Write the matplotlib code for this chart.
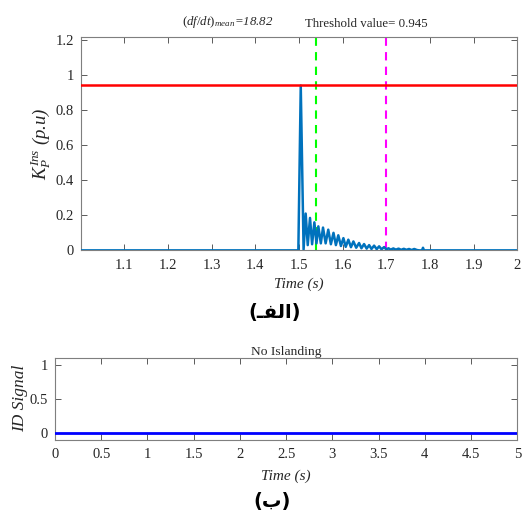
import matplotlib
matplotlib.use("Agg")
import matplotlib.pyplot as plt

plt.rcParams["font.family"] = ["Liberation Serif", "DejaVu Sans"]
plt.rcParams["mathtext.fontset"] = "custom"
plt.rcParams["mathtext.rm"] = "Liberation Serif"
plt.rcParams["mathtext.it"] = "Liberation Serif:italic"

# (a) instantaneous K_P vs time
t_top = [1.0, 1.4985, 1.504, 1.5105,
         1.5153, 1.520, 1.5252, 1.530, 1.5352, 1.540, 1.5443, 1.550,
         1.555, 1.561, 1.567, 1.573, 1.579, 1.5845, 1.590, 1.596,
         1.6017, 1.607, 1.613, 1.619, 1.6246, 1.631, 1.6376, 1.643,
         1.649, 1.655, 1.6606, 1.666, 1.672, 1.678, 1.6835, 1.689,
         1.695, 1.700, 1.705, 1.710, 1.716, 1.722, 1.728, 1.734,
         1.740, 1.746, 1.752, 1.758, 1.764, 1.770, 1.775, 1.782,
         1.784, 1.786, 2.0]
k_top = [0.0, 0.0, 0.94, 0.005,
         0.21, 0.03, 0.185, 0.035, 0.16, 0.04, 0.137, 0.04,
         0.13, 0.04, 0.118, 0.035, 0.10, 0.03, 0.086, 0.025,
         0.07, 0.02, 0.061, 0.018, 0.051, 0.015, 0.042, 0.012,
         0.036, 0.01, 0.030, 0.008, 0.027, 0.007, 0.023, 0.006,
         0.019, 0.005, 0.012, 0.004, 0.011, 0.004, 0.010, 0.003,
         0.009, 0.003, 0.008, 0.002, 0.008, 0.002, 0.0, 0.0,
         0.015, 0.0, 0.0]
threshold = 0.945
t_green = 1.54
t_magenta = 1.70
dfdt_mean = 18.82

top_xticks = [1.1, 1.2, 1.3, 1.4, 1.5, 1.6, 1.7, 1.8, 1.9, 2.0]
top_xlabels = ["1.1", "1.2", "1.3", "1.4", "1.5", "1.6", "1.7", "1.8", "1.9", "2"]
top_yticks = [0, 0.2, 0.4, 0.6, 0.8, 1.0, 1.2]
top_ylabels = ["0", "0.2", "0.4", "0.6", "0.8", "1", "1.2"]

# (b) islanding detection signal
t_bot = [0.0, 5.0]
id_bot = [0.0, 0.0]
bot_xticks = [0, 0.5, 1, 1.5, 2, 2.5, 3, 3.5, 4, 4.5, 5]
bot_xlabels = ["0", "0.5", "1", "1.5", "2", "2.5", "3", "3.5", "4", "4.5", "5"]
bot_yticks = [0, 0.5, 1]
bot_ylabels = ["0", "0.5", "1"]

spine_col = "#7f7f7f"
text_col = "#262626"


def matlab_box(ax):
    for s in ax.spines.values():
        s.set_color(spine_col)
        s.set_linewidth(0.8)
    ax.tick_params(direction="in", top=True, right=True, length=4,
                   width=0.6, color="#404040", labelsize=10.5,
                   labelcolor=text_col)
    ax.tick_params(axis="x", pad=6)
    ax.tick_params(axis="y", pad=5)


fig = plt.figure(figsize=(5.22, 5.12), dpi=100)

ax1 = fig.add_axes([0.1546, 0.511, 0.8364, 0.416])
ax1.plot(t_top, k_top, color="#0072BD", lw=1.8, zorder=3)
ax1.axhline(threshold, color="#FF0000", lw=1.8, zorder=4)
ax1.axvline(t_green, color="#00FF00", lw=1.5, ls=(0, (4, 3)), zorder=2)
ax1.axvline(t_magenta, color="#FF00FF", lw=1.5, ls=(0, (4, 3)), zorder=2)
ax1.set_xlim(1.0, 2.0)
ax1.set_ylim(0, 1.215)
ax1.set_xticks(top_xticks, top_xlabels)
ax1.set_yticks(top_yticks, top_ylabels)
matlab_box(ax1)
ax1.set_xlabel("Time (s)", fontstyle="italic", fontsize=11, color=text_col, labelpad=4)
ax1.set_ylabel(r"$K_P^{Ins}$ (p.u)", fontstyle="italic", fontsize=13.5,
               color=text_col, labelpad=2)
ax1.text(0.337, 1.035, r"$(df/dt)_{mean}$=%.2f" % dfdt_mean, fontstyle="italic",
         transform=ax1.transAxes, ha="center", va="bottom", fontsize=9.3, color=text_col)
ax1.text(0.654, 1.035, "Threshold value= %.3f" % threshold,
         transform=ax1.transAxes, ha="center", va="bottom", fontsize=9.3, color=text_col)
fig.text(0.527, 0.39, "(\u0640\uFED4\uFEDF\u0627)", ha="center", va="center",
         fontsize=14, fontweight="bold", family=["DejaVu Sans"])

ax2 = fig.add_axes([0.1054, 0.1416, 0.8856, 0.159])
ax2.plot(t_bot, id_bot, color="#0000FF", lw=2, zorder=3)
ax2.set_xlim(0, 5)
ax2.set_ylim(-0.1, 1.1)
ax2.set_xticks(bot_xticks, bot_xlabels)
ax2.set_yticks(bot_yticks, bot_ylabels)
matlab_box(ax2)
ax2.set_title("No Islanding", fontsize=9.7, color=text_col, pad=2)
ax2.set_xlabel("Time (s)", fontstyle="italic", fontsize=11, color=text_col, labelpad=6)
ax2.set_ylabel("ID Signal", fontstyle="italic", fontsize=12.5, color=text_col, labelpad=1)
fig.text(0.521, 0.02, "(\u0628)", ha="center", va="center",
         fontsize=14, fontweight="bold", family=["DejaVu Sans"])

fig.savefig("out.png", dpi=100)
